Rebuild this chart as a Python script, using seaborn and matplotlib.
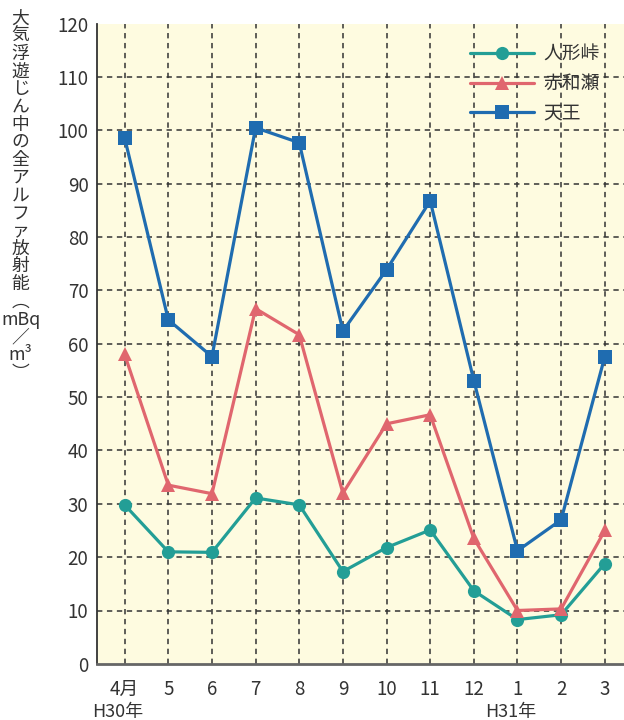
import pandas as pd
import numpy as np
import matplotlib.pyplot as plt
import seaborn as sns

# Data
months = ["4月", "5", "6", "7", "8", "9", "10", "11", "12", "1", "2", "3"]
ningyo = [29.8, 21.0, 20.9, 31.1, 29.8, 17.3, 21.8, 25.1, 13.7, 8.3, 9.2, 18.8]
akawase = [58.0, 33.5, 31.9, 66.6, 61.7, 32.0, 45.0, 46.7, 23.5, 10.0, 10.3, 25.0]
tenno = [98.6, 64.5, 57.6, 100.5, 97.7, 62.4, 73.9, 86.8, 53.1, 21.2, 27.0, 57.6]
sites = ["人形峠", "赤和瀬", "天王"]

df = pd.DataFrame({
    "x": list(range(len(months))) * 3,
    "value": ningyo + akawase + tenno,
    "site": [s for s in sites for _ in months],
})

sns.set_style("white")
plt.rcParams['font.family'] = ['Noto Sans CJK JP', 'DejaVu Sans']

palette = {"人形峠": "#239e96", "赤和瀬": "#e0666e", "天王": "#1f6cb0"}
markers = {"人形峠": "o", "赤和瀬": "^", "天王": "s"}

fig = plt.figure(figsize=(6.24, 7.2), dpi=100)
ax = fig.add_axes([0.155, 0.078, 0.845, 0.889])
ax.set_facecolor("#fefbe0")

sns.lineplot(data=df, x="x", y="value", hue="site", style="site",
             palette=palette, markers=markers, dashes=False,
             linewidth=2.3, markersize=9.5, markeredgewidth=0, ax=ax)

ax.set_xlim(-0.64, 11.44)
ax.set_ylim(0, 120)
ax.set_xticks(range(len(months)))
ax.set_xticklabels(months, fontsize=13.5, color="#333333")
ax.set_yticks(range(0, 121, 10))
ax.tick_params(axis="y", labelsize=13.5, colors="#333333", length=0, pad=6)
ax.tick_params(axis="x", length=0, pad=11)
ax.set_xlabel("")
ax.set_ylabel("")

# dashed grid
for v in range(10, 120, 10):
    ax.axhline(v, color="#333333", linestyle=(0, (3.5, 3)), linewidth=1.1, zorder=0.5)
for i in range(len(months)):
    ax.axvline(i, color="#333333", linestyle=(0, (3.5, 3)), linewidth=1.1, zorder=0.5)

for s in ["top", "right"]:
    ax.spines[s].set_visible(False)
ax.spines["left"].set_color("#333333")
ax.spines["left"].set_linewidth(1.3)
ax.spines["bottom"].set_color("#666666")
ax.spines["bottom"].set_linewidth(2)

# year labels under the month ticks
ax.text(-0.15, -9.9, "H30年", ha="center", va="baseline", fontsize=13, color="#333333")
ax.text(8.85, -9.9, "H31年", ha="center", va="baseline", fontsize=13, color="#333333")

# vertical y label
ylab = ["大", "気", "浮", "遊", "じ", "ん", "中", "の", "全", "ア", "ル", "フ", "ァ",
        "放", "射", "能", "︵", "mBq", "／", "m³", "︶"]
fig.text(0.033, 0.987, "\n".join(ylab), ha="center", va="top", fontsize=12.8,
         linespacing=0.98, color="#333333")

leg = ax.legend(loc="upper right", bbox_to_anchor=(0.985, 0.995), frameon=False,
                fontsize=13.5, handlelength=3.4, labelspacing=0.45, handletextpad=0.5)
for t in leg.get_texts():
    t.set_color("#333333")

fig.savefig("out.png", dpi=100)
